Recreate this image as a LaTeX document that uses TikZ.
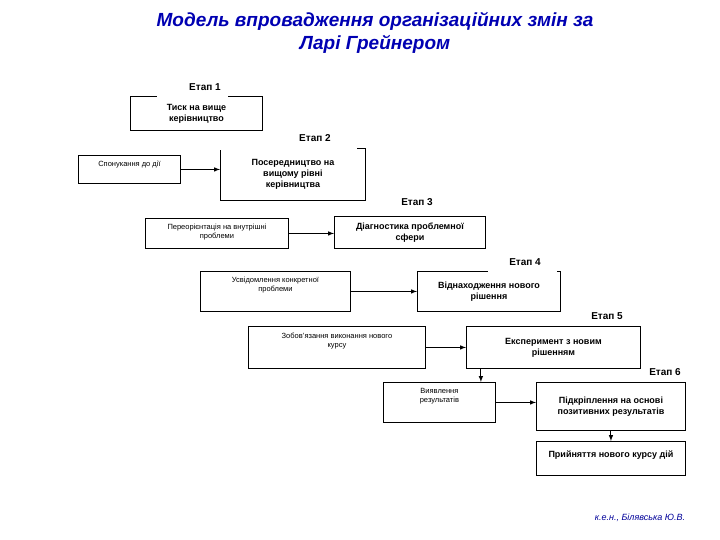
\documentclass[tikz,border=0pt]{standalone}
\usepackage{fontspec}
\setmainfont{Liberation Sans}
\begin{document}
\begin{tikzpicture}[x=1pt,y=-1pt,
  box/.style={draw,line width=0.9pt,fill=white,anchor=north west,inner sep=0pt},
  stg/.style={font=\bfseries\fontsize{10}{12}\selectfont,inner sep=1pt},
  bt/.style={font=\bfseries\fontsize{9}{11}\selectfont,align=center},
  st/.style={font=\fontsize{7.5}{9}\selectfont,align=center},
  arr/.style={-latex,line width=1pt}]
\useasboundingbox (0,0) rectangle (720,540);
\node[font=\bfseries\itshape\fontsize{19}{23}\selectfont,text=blue!70!black,align=center] (title) at (375,33) {Модель впровадження організаційних змін за\\Ларі Грейнером};
% boxes
\node[box,minimum width=132pt,minimum height=34pt] (s1) at (130,96) {};
\fill[white] (157,94) rectangle (228,98);
\node[bt] (s1t) at (s1.center) {Тиск на вище\\керівництво};
\node[stg] (l1) at (205,87) {Етап 1};
\node[box,minimum width=102pt,minimum height=28pt] (a2) at (78,155) {};
\node[st,anchor=north] (a2t) at ([yshift=-3pt]a2.north) {Спонукання до дії};
\node[box,minimum width=145pt,minimum height=52pt] (s2) at (220,148) {};
\fill[white] (219,146) rectangle (357,150);
\node[bt] (s2t) at (s2.center) {Посередництво на\\вищому рівні\\керівництва};
\node[stg] (l2) at (315,138) {Етап 2};
\node[box,minimum width=143pt,minimum height=30pt] (a3) at (145,218) {};
\node[st,anchor=north] (a3t) at ([yshift=-3pt]a3.north) {Переорієнтація на внутрішні\\проблеми};
\node[box,minimum width=151pt,minimum height=32pt] (s3) at (334,216) {};
\node[bt] (s3t) at (s3.center) {Діагностика проблемної\\сфери};
\node[stg] (l3) at (417,202) {Етап 3};
\node[box,minimum width=150pt,minimum height=40pt] (a4) at (200,271) {};
\node[st,anchor=north] (a4t) at ([yshift=-3pt]a4.north) {Усвідомлення конкретної\\проблеми};
\node[box,minimum width=143pt,minimum height=40pt] (s4) at (417,271) {};
\fill[white] (488,269) rectangle (557,273);
\node[bt] (s4t) at (s4.center) {Віднаходження нового\\рішення};
\node[stg] (l4) at (525,262) {Етап 4};
\node[box,minimum width=177pt,minimum height=42pt] (a5) at (248,326) {};
\node[st,anchor=north] (a5t) at ([yshift=-3pt]a5.north) {Зобов'язання виконання нового\\курсу};
\node[box,minimum width=174pt,minimum height=42pt] (s5) at (466,326) {};
\node[bt] (s5t) at (s5.center) {Експеримент з новим\\рішенням};
\node[stg] (l5) at (607,316) {Етап 5};
\node[box,minimum width=112pt,minimum height=40pt] (a6) at (383,382) {};
\node[st,anchor=north] (a6t) at ([yshift=-3pt]a6.north) {Виявлення\\результатів};
\node[box,minimum width=149pt,minimum height=48pt] (s6) at (536,382) {};
\node[bt] (s6t) at (s6.center) {Підкріплення на основі\\позитивних результатів};
\node[stg] (l6) at (665,372) {Етап 6};
\node[box,minimum width=149pt,minimum height=34pt] (s7) at (536,441) {};
\node[bt,anchor=north] (s7t) at ([yshift=-6pt]s7.north) {Прийняття нового курсу дій};
% arrows
\draw[arr] (a2.east) -- (s2.west|-a2.east);
\draw[arr] (a3.east) -- (s3.west|-a3.east);
\draw[arr] (a4.east) -- (s4.west|-a4.east);
\draw[arr] (a5.east) -- (s5.west|-a5.east);
\draw[arr] (a6.east) -- (s6.west|-a6.east);
\draw[arr] (s5.south-|a6.north east) ++(-15,0) coordinate (c5) -- (c5|-a6.north);
\draw[arr] (s6.south-|s7t.center) -- (s7.north-|s7t.center);
\node[font=\itshape\fontsize{9}{11}\selectfont,text=blue!60!black] (cr) at (640,518) {к.е.н., Білявська Ю.В.};
\end{tikzpicture}
\end{document}
